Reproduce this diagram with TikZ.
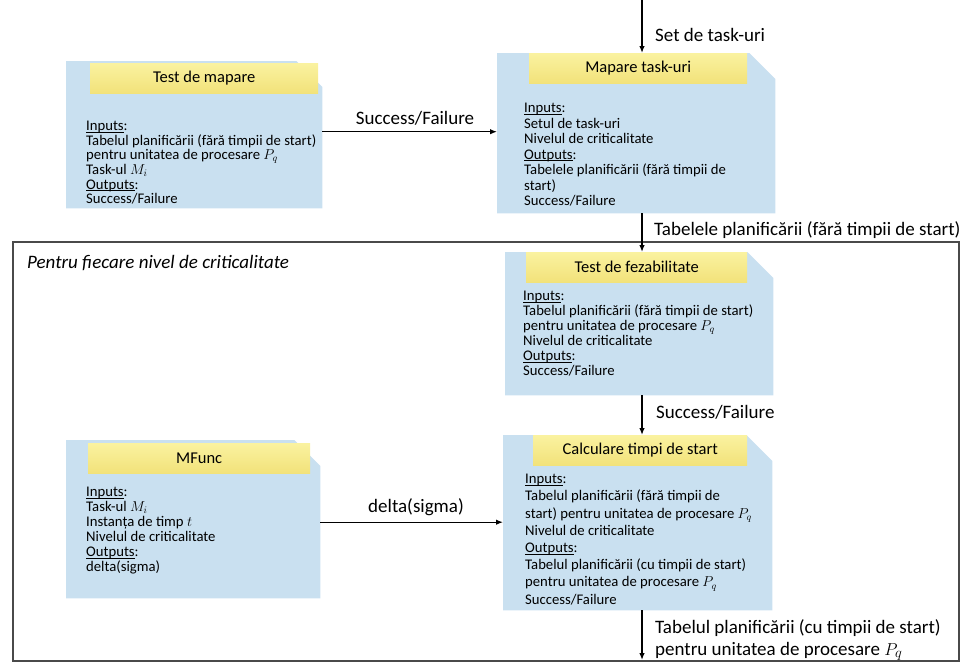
\documentclass[tikz,border=0pt]{standalone}
\usepackage{fontspec}
\setmainfont{Carlito}
\usetikzlibrary{arrows.meta}
\definecolor{boxblue}{HTML}{C9E0F0}
\definecolor{bartop}{HTML}{FAF2A0}
\definecolor{barbot}{HTML}{F2E27A}
\definecolor{framegray}{HTML}{4A4A4A}
\newlength\ulwidth
\newcommand\myul[1]{\settowidth{\ulwidth}{#1}\rlap{\rule[-1.8pt]{\ulwidth}{0.7pt}}#1}
\tikzset{
  area/.style={draw=none, inner sep=0pt, anchor=north west},
  bar/.style={draw=none, inner sep=0pt, anchor=north west, top color=bartop, bottom color=barbot,
    font=\fontsize{16.5}{18}\selectfont},
  body/.style={inner sep=0pt, anchor=north west, align=left},
  lbl/.style={inner sep=0pt, font=\fontsize{19}{22}\selectfont},
  arr/.style={line width=1.3pt, -{Latex[length=7pt,width=5.5pt]}},
  loopframe/.style={draw=framegray, line width=1.6pt, inner sep=0pt, anchor=north west}
}
\newcommand\snipfill[1]{%
  \fill[boxblue] (#1.north west) -- ([xshift=-26pt]#1.north east) -- ([yshift=-26pt]#1.north east)
    -- (#1.south east) -- (#1.south west) -- cycle;}
\begin{document}
\begin{tikzpicture}[x=1pt,y=-1pt]
\useasboundingbox (0,0) rectangle (965,662);

% loop frame
\node[loopframe, minimum width=946, minimum height=419] (loop) at (12,241) {};

% box areas
\node[area, minimum width=256, minimum height=147] (tm) at (66,61) {};
\node[area, minimum width=278, minimum height=160] (mt) at (497,53) {};
\node[area, minimum width=268, minimum height=143] (tf) at (505,252) {};
\node[area, minimum width=254, minimum height=158] (mf) at (66,440) {};
\node[area, minimum width=269, minimum height=175] (cs) at (503,435) {};
\snipfill{tm}\snipfill{mt}\snipfill{tf}\snipfill{mf}\snipfill{cs}

% title bars
\node[bar, minimum width=228, minimum height=30] (tmt) at (90,63) {Test de mapare};
\node[bar, minimum width=218, minimum height=30] (mtt) at (529,53) {Mapare task-uri};
\node[bar, minimum width=221, minimum height=30] (tft) at (526,252) {Test de fezabilitate};
\node[bar, minimum width=222, minimum height=30] (mft) at (88,443) {MFunc};
\node[bar, minimum width=214, minimum height=30] (cst) at (533,435) {Calculare timpi de start};

% bodies
\node[body, font=\fontsize{14.7}{14.6}\selectfont] (tmb) at (86,121) {%
\myul{Inputs}:\\
Tabelul planificării (fără timpii de start)\\
pentru unitatea de procesare $P_q$\\
Task-ul $M_i$\\
\myul{Outputs}:\\
Success/Failure};

\node[body, font=\fontsize{14.7}{15.5}\selectfont] (mtb) at (524,103) {%
\myul{Inputs}:\\
Setul de task-uri\\
Nivelul de criticalitate\\
\myul{Outputs}:\\
Tabelele planificării (fără timpii de\\
start)\\
Success/Failure};

\node[body, font=\fontsize{14.7}{15}\selectfont] (tfb) at (523,291) {%
\myul{Inputs}:\\
Tabelul planificării (fără timpii de start)\\
pentru unitatea de procesare $P_q$\\
Nivelul de criticalitate\\
\myul{Outputs}:\\
Success/Failure};

\node[body, font=\fontsize{14.7}{15}\selectfont] (mfb) at (86,487) {%
\myul{Inputs}:\\
Task-ul $M_i$\\
Instanța de timp $t$\\
Nivelul de criticalitate\\
\myul{Outputs}:\\
delta(sigma)};

\node[body, font=\fontsize{14.7}{17.2}\selectfont] (csb) at (525,474) {%
\myul{Inputs}:\\
Tabelul planificării (fără timpii de\\
start) pentru unitatea de procesare $P_q$\\
Nivelul de criticalitate\\
\myul{Outputs}:\\
Tabelul planificării (cu timpii de start)\\
pentru unitatea de procesare $P_q$\\
Success/Failure};

% connectors
\coordinate (col) at (642,0);
\coordinate (out) at (642,660);
\draw[arr] (col) -- (col |- mt.north);
\draw[arr] ([yshift=3pt]tm.east) -- ([yshift=3pt]tm.east -| mt.west);
\draw[arr] (col |- mt.south) -- (col |- tf.north);
\draw[arr] (col |- tf.south) -- (col |- cs.north);
\draw[arr] ([yshift=-3pt]mf.east) -- ([yshift=-3pt]mf.east -| cs.west);
\draw[arr] (col |- cs.south) -- (out);

% labels
\node[lbl, anchor=west] (l1) at (655,35) {Set de task-uri};
\node[lbl] (l2) at (415,118) {Success/Failure};
\node[lbl, anchor=west] (l3) at (654,230) {Tabelele planificării (fără timpii de start)};
\node[lbl, anchor=west] (l4) at (656,412) {Success/Failure};
\node[lbl] (l5) at (416,507) {delta(sigma)};
\node[lbl, anchor=north west, align=left] (l6) at (655,619) {Tabelul planificării (cu timpii de start)\\pentru unitatea de procesare $P_q$};
\node[lbl, anchor=west, font=\fontsize{19}{22}\selectfont\itshape] (l7) at (27,263) {Pentru fiecare nivel de criticalitate};
\end{tikzpicture}
\end{document}
